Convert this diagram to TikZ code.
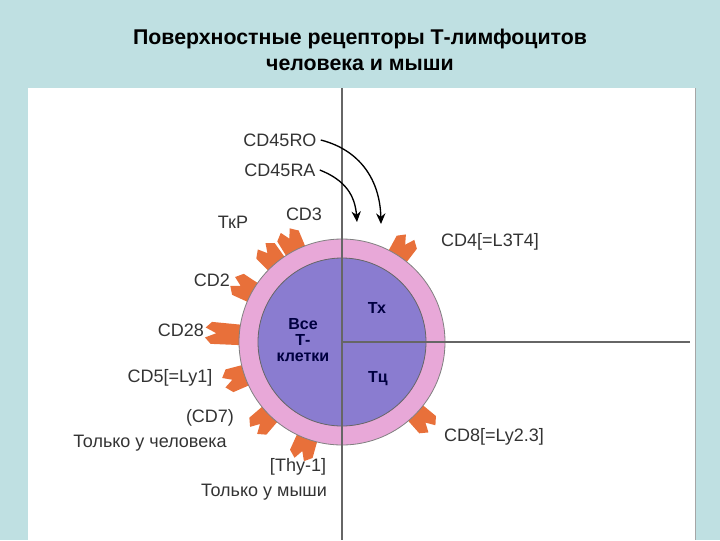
\documentclass[tikz,border=0pt]{standalone}
\usepackage{fontspec}
\setmainfont{Liberation Sans}
\usetikzlibrary{arrows.meta}
\definecolor{bg}{HTML}{BFE0E2}
\definecolor{memb}{HTML}{E8A8D8}
\definecolor{core}{HTML}{8A7CD0}
\definecolor{rec}{HTML}{E8703A}
\tikzset{
  lbl/.style={font=\fontsize{13.5}{14}\selectfont, text=black!80, inner sep=0pt},
  inlbl/.style={font=\bfseries\fontsize{12}{12}\selectfont, text=black!75!blue, inner sep=0pt, align=center},
  recep/.pic={\fill[rec] (-4,-10)--(22,-12)--(28,-5)--(19,0)--(28,5)--(22,12)--(-4,10)--cycle;},
  longrec/.pic={\fill[rec] (-4,-10)--(34,-11)--(40,-5)--(29,0)--(40,5)--(34,11)--(-4,10)--cycle;},
  arr/.style={-{Stealth[length=8pt,width=7pt]}, line width=1pt},
}
\begin{document}
\begin{tikzpicture}[x=0.75pt,y=-0.75pt]
\useasboundingbox (0,0) rectangle (720,540);
\fill[bg] (0,0) rectangle (720,540);
\fill[white] (28,88) rectangle (695,540);
\draw[gray!70] (695,88) -- (695,540);
\node[font=\bfseries\fontsize{16}{19}\selectfont, align=center] (title) at (360,50) {Поверхностные рецепторы Т-лимфоцитов\\человека и мыши};
\coordinate (c) at (342,342);
\foreach \a in {130,117,151,199,225,250,57,-44}
  \path (c) ++(-\a:97) pic[rotate=\a] {recep};
\path (c) ++(-176:97) pic[rotate=176] {longrec};
\fill[memb] (c) circle[radius=103];
\draw[black!50, line width=0.6pt] (c) circle[radius=103];
\fill[core] (c) circle[radius=84];
\draw[black!60, line width=0.6pt] (c) circle[radius=84];
\draw[black!60, line width=0.8pt] (342,88) -- (342,540);
\draw[black!60, line width=0.8pt] (c) -- (690,342);
\node[lbl] (ro) at (280,140) {CD45RO};
\node[lbl] (ra) at (280,170) {CD45RA};
\draw[arr] (ro.east) ++(4,0) .. controls (360,150) and (380,180) .. (381,224);
\draw[arr] (ra.east) ++(4,0) .. controls (345,180) and (355,195) .. (357,222);
\node[lbl] (tkr) at (233,222) {ТкР};
\node[lbl] (cd3) at (304,214) {CD3};
\node[lbl] (cd4) at (490,242) {CD4[=L3T4]};
\node[lbl] (cd2) at (212,280) {CD2};
\node[lbl] (cd28) at (181,330) {CD28};
\node[lbl] (cd5) at (170,378) {CD5[=Ly1]};
\node[lbl] (cd7) at (210,418) {(CD7)};
\node[lbl] (hum) at (150,443) {Только у человека};
\node[lbl] (cd8) at (494,437) {CD8[=Ly2.3]};
\node[lbl] (thy) at (298,467) {[Thy-1]};
\node[lbl] (mou) at (264,492) {Только у мыши};
\node[inlbl] (all) at (303,340) {Все\\Т-\\клетки};
\node[inlbl] (th) at (377,308) {Тх};
\node[inlbl] (tc) at (378,379) {Тц};
\end{tikzpicture}
\end{document}
